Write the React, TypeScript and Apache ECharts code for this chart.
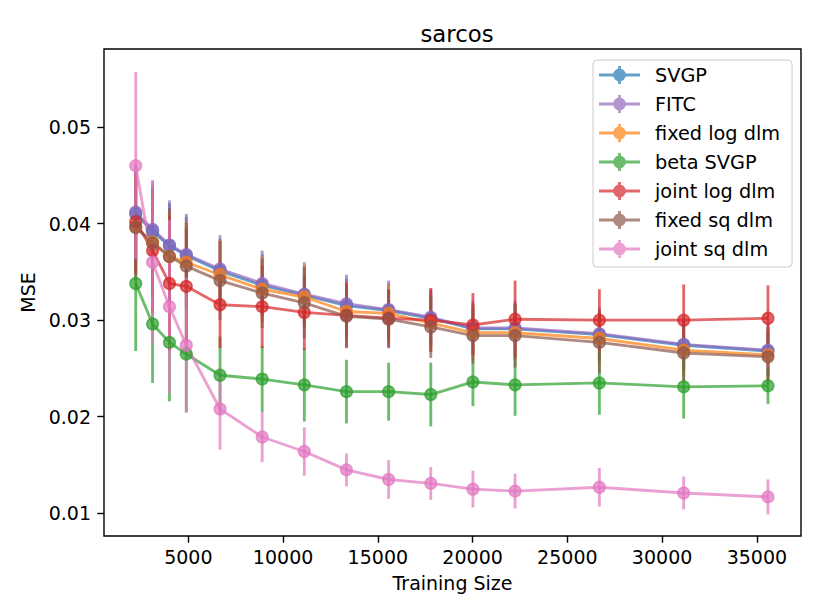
import React, { useEffect, useRef } from "react";
import * as echarts from "echarts";

const trainSize = [2224, 3114, 4004, 4893, 6673, 8897, 11121, 13345, 15569, 17794, 20018, 22242, 26690, 31139, 35587];

const seriesNames = ["SVGP", "FITC", "fixed log dlm", "beta SVGP", "joint log dlm", "fixed sq dlm", "joint sq dlm"];
const seriesColors = ["#1f77b4", "#9467bd", "#ff7f0e", "#2ca02c", "#d62728", "#8c564b", "#e377c2"];

const svgpMse = [0.0410, 0.0392, 0.0377, 0.0367, 0.0351, 0.0336, 0.0326, 0.0315, 0.0310, 0.0302, 0.0291, 0.0291, 0.0285, 0.0274, 0.0268];
const fitcMse = [0.0412, 0.0394, 0.0378, 0.0368, 0.0353, 0.0338, 0.0327, 0.0317, 0.0311, 0.0303, 0.0292, 0.0292, 0.0286, 0.0275, 0.0269];
const fixedLogMse = [0.0397, 0.0381, 0.0366, 0.0360, 0.0347, 0.0332, 0.0324, 0.0309, 0.0307, 0.0297, 0.0287, 0.0287, 0.0281, 0.0269, 0.0264];
const betaSvgpMse = [0.0338, 0.0296, 0.0277, 0.0265, 0.0243, 0.0239, 0.0233, 0.0226, 0.0226, 0.0223, 0.0236, 0.0233, 0.0235, 0.0231, 0.0232];
const jointLogMse = [0.0402, 0.0372, 0.0338, 0.0335, 0.0316, 0.0314, 0.0308, 0.0305, 0.0302, 0.0300, 0.0295, 0.0301, 0.0300, 0.0300, 0.0302];
const fixedSqMse = [0.0396, 0.0380, 0.0366, 0.0356, 0.0341, 0.0328, 0.0318, 0.0304, 0.0301, 0.0293, 0.0284, 0.0284, 0.0277, 0.0266, 0.0262];
const jointSqMse = [0.0460, 0.0360, 0.0314, 0.0274, 0.0208, 0.0179, 0.0164, 0.0145, 0.0135, 0.0131, 0.0125, 0.0123, 0.0127, 0.0121, 0.0117];

const svgpErr = [0.0048, 0.0048, 0.0044, 0.0040, 0.0033, 0.0032, 0.0031, 0.0028, 0.0028, 0.0028, 0.0026, 0.0026, 0.0025, 0.0025, 0.0025];
const fitcErr = [0.0050, 0.0050, 0.0046, 0.0042, 0.0035, 0.0034, 0.0033, 0.0030, 0.0030, 0.0030, 0.0028, 0.0028, 0.0027, 0.0027, 0.0027];
const fixedLogErr = [0.0050, 0.0050, 0.0046, 0.0042, 0.0036, 0.0034, 0.0033, 0.0030, 0.0030, 0.0030, 0.0028, 0.0028, 0.0027, 0.0027, 0.0027];
const betaSvgpErr = [0.0070, 0.0061, 0.0061, 0.0060, 0.0040, 0.0034, 0.0038, 0.0033, 0.0030, 0.0033, 0.0025, 0.0032, 0.0033, 0.0033, 0.0019];
const jointLogErr = [0.0053, 0.0065, 0.0070, 0.0060, 0.0045, 0.0043, 0.0039, 0.0034, 0.0030, 0.0033, 0.0033, 0.0040, 0.0032, 0.0037, 0.0034];
const fixedSqErr = [0.0055, 0.0055, 0.0050, 0.0045, 0.0041, 0.0036, 0.0037, 0.0032, 0.0030, 0.0032, 0.0029, 0.0033, 0.0032, 0.0030, 0.0028];
const jointSqErr = [0.0097, 0.0085, 0.0090, 0.0070, 0.0042, 0.0026, 0.0025, 0.0017, 0.0020, 0.0017, 0.0019, 0.0018, 0.0020, 0.0017, 0.0018];

const seriesMse = [svgpMse, fitcMse, fixedLogMse, betaSvgpMse, jointLogMse, fixedSqMse, jointSqMse];
const seriesErr = [svgpErr, fitcErr, fixedLogErr, betaSvgpErr, jointLogErr, fixedSqErr, jointSqErr];

const xTicks = [5000, 10000, 15000, 20000, 25000, 30000, 35000];
const yTicks = [0.01, 0.02, 0.03, 0.04, 0.05];

const FONT = "DejaVu Sans";
const ALPHA = 0.7;
const LW = 2.85;

const legendIcon =
  "path://M0,7.6h41v2.8H0z M19.1,0h2.8v18h-2.8z M26.9,9A6.4,6.4 0 1,1 14.1,9A6.4,6.4 0 1,1 26.9,9z";

export default function App() {
  const ref = useRef<HTMLDivElement>(null);

  useEffect(() => {
    if (!ref.current) return;
    const chart = echarts.init(ref.current, null, { renderer: "svg" });

    const series: any[] = [];
    seriesNames.forEach((name, i) => {
      const color = seriesColors[i];
      const mse = seriesMse[i];
      const err = seriesErr[i];
      series.push({
        name: name + " err",
        type: "custom",
        clip: true,
        encode: { x: 0, y: [1, 2] },
        data: trainSize.map((x, k) => [x, mse[k] - err[k], mse[k] + err[k]]),
        renderItem: (params: any, api: any) => {
          const x = api.value(0);
          const p1 = api.coord([x, api.value(1)]);
          const p2 = api.coord([x, api.value(2)]);
          return {
            type: "line",
            shape: { x1: p1[0], y1: p1[1], x2: p2[0], y2: p2[1] },
            style: { stroke: color, lineWidth: LW, opacity: ALPHA },
          };
        },
        silent: true,
      });
      series.push({
        name,
        type: "line",
        data: trainSize.map((x, k) => [x, mse[k]]),
        symbol: "circle",
        symbolSize: 11.6,
        showSymbol: true,
        lineStyle: { color, width: LW, opacity: ALPHA },
        itemStyle: { color, opacity: ALPHA, borderColor: color, borderWidth: 1.6 },
        emphasis: { disabled: true },
        silent: true,
      });
    });

    chart.setOption({
      animation: false,
      backgroundColor: "#ffffff",
      title: {
        text: "sarcos",
        left: 452,
        textAlign: "center",
        top: 17,
        textStyle: { fontFamily: FONT, fontSize: 22.8, fontWeight: "normal", color: "#000" },
      },
      grid: {
        left: 104,
        right: 21,
        top: 49,
        bottom: 80,
        show: true,
        borderColor: "#000",
        borderWidth: 1.4,
        backgroundColor: "transparent",
      },
      legend: {
        orient: "vertical",
        left: 593,
        top: 60,
        data: seriesNames,
        icon: legendIcon,
        itemWidth: 41,
        itemHeight: 18,
        itemGap: 9,
        padding: [5, 12, 8, 6],
        backgroundColor: "rgba(255,255,255,0.8)",
        borderColor: "#cccccc",
        borderWidth: 1,
        borderRadius: 4,
        selectedMode: false,
        itemStyle: { opacity: ALPHA, borderWidth: 0 },
        textStyle: {
          fontFamily: FONT,
          fontSize: 19.3,
          lineHeight: 20,
          color: "#000",
          padding: [0, 0, 0, 10],
        },
      },
      xAxis: {
        type: "value",
        min: 550,
        max: 37330,
        name: "Training Size",
        nameLocation: "middle",
        nameGap: 37,
        nameTextStyle: { fontFamily: FONT, fontSize: 19, color: "#000" },
        axisLine: { show: false },
        splitLine: { show: false },
        axisTick: {
          show: true,
          inside: false,
          length: 6.7,
          customValues: xTicks,
          lineStyle: { color: "#000", width: 1.4 },
        },
        axisLabel: {
          customValues: xTicks,
          margin: 11,
          fontFamily: FONT,
          fontSize: 19,
          color: "#000",
          formatter: (v: number) => String(v),
        },
      },
      yAxis: {
        type: "value",
        min: 0.00765,
        max: 0.05808,
        name: "MSE",
        nameLocation: "middle",
        nameRotate: 90,
        nameGap: 64,
        nameTextStyle: { fontFamily: FONT, fontSize: 19, color: "#000" },
        axisLine: { show: false },
        splitLine: { show: false },
        axisTick: {
          show: true,
          inside: false,
          length: 6.7,
          customValues: yTicks,
          lineStyle: { color: "#000", width: 1.4 },
        },
        axisLabel: {
          customValues: yTicks,
          margin: 13,
          fontFamily: FONT,
          fontSize: 19,
          color: "#000",
          formatter: (v: number) => v.toFixed(2),
        },
      },
      series,
    });

    return () => {
      chart.dispose();
    };
  }, []);

  return (
    <div
      ref={ref}
      style={{ position: "absolute", left: 0, top: 0, width: 822, height: 616 }}
    />
  );
}
